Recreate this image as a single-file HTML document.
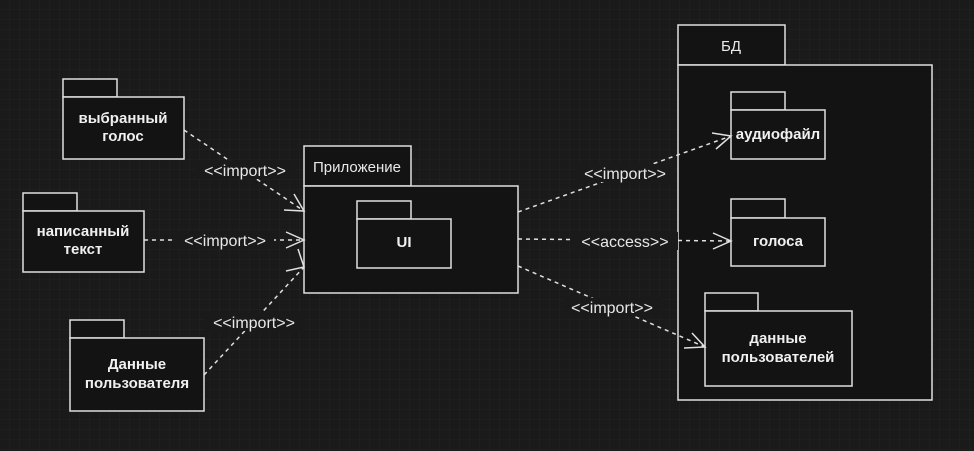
<!DOCTYPE html>
<html><head><meta charset="utf-8"><style>
html,body{margin:0;padding:0;background:#1a1a1a;}
svg{display:block;}
</style></head><body>
<svg width="974" height="451" viewBox="0 0 974 451" xmlns="http://www.w3.org/2000/svg">
<defs>
<pattern id="g" width="10" height="10" patternUnits="userSpaceOnUse"><path d="M10 0V10H0" fill="none" stroke="#222" stroke-width="1"/></pattern>
</defs>
<rect width="974" height="451" fill="#1a1a1a"/>
<rect width="974" height="451" fill="url(#g)"/>
<g fill="#131313" stroke="#e0e0e0" stroke-width="1.5">
<rect x="63" y="79" width="54" height="18"/><rect x="63" y="97" width="121" height="62"/>
<rect x="23" y="193" width="54" height="18"/><rect x="23" y="211" width="121" height="61"/>
<rect x="70" y="320" width="54" height="18"/><rect x="70" y="338" width="134" height="73"/>
<rect x="304" y="146" width="107" height="40"/><rect x="304" y="186" width="214" height="107"/>
<rect x="357" y="201" width="54" height="18"/><rect x="357" y="219" width="94" height="49"/>
<rect x="678" y="25" width="107" height="40"/><rect x="678" y="65" width="254" height="335"/>
<rect x="731" y="92" width="54" height="18"/><rect x="731" y="110" width="94" height="49"/>
<rect x="731" y="199" width="54" height="19"/><rect x="731" y="218" width="94" height="48"/>
<rect x="705" y="293" width="53" height="18"/><rect x="705" y="311" width="147" height="75"/>
</g>
<g stroke="#e0e0e0" stroke-width="1.5" fill="none" stroke-dasharray="4,4">
<line x1="184" y1="130" x2="304" y2="211"/>
<line x1="144" y1="240" x2="304" y2="240"/>
<line x1="204" y1="375" x2="304" y2="267"/>
<line x1="518" y1="212" x2="731" y2="136"/>
<line x1="518" y1="239" x2="731" y2="241"/>
<line x1="518" y1="266" x2="705" y2="347"/>
</g>
<g stroke="#e0e0e0" stroke-width="1.5" fill="none">
<polyline points="284,210 304,211 294,194"/>
<polyline points="286,232 304,240 286,248"/>
<polyline points="286,271 304,267 298,249"/>
<polyline points="712,133 731,136 716,149"/>
<polyline points="713,233 731,241 713,249"/>
<polyline points="684,348 705,347 692,333"/>
</g>
<g font-family="Liberation Sans, DejaVu Sans, sans-serif" font-size="16" fill="#e8e8e8" text-anchor="middle">
<rect x="196" y="161" width="98" height="18" fill="#1a1a1a"/><text x="245" y="176">&lt;&lt;import&gt;&gt;</text>
<rect x="176" y="231" width="98" height="18" fill="#1a1a1a"/><text x="225" y="246">&lt;&lt;import&gt;&gt;</text>
<rect x="205" y="313" width="98" height="18" fill="#1a1a1a"/><text x="254" y="328">&lt;&lt;import&gt;&gt;</text>
<rect x="576" y="164" width="98" height="18" fill="#1a1a1a"/><text x="625" y="179">&lt;&lt;import&gt;&gt;</text>
<rect x="572" y="232" width="106" height="18" fill="#1a1a1a"/><text x="625" y="247">&lt;&lt;access&gt;&gt;</text>
<rect x="563" y="298" width="98" height="18" fill="#1a1a1a"/><text x="612" y="313">&lt;&lt;import&gt;&gt;</text>
<text x="357" y="172" font-size="15">Приложение</text>
<text x="731" y="51" font-size="15">БД</text>
</g>
<g font-family="Liberation Sans, DejaVu Sans, sans-serif" font-size="15" font-weight="bold" fill="#f0f0f0" text-anchor="middle">
<text x="123" y="123">выбранный</text><text x="123" y="141">голос</text>
<text x="83" y="236">написанный</text><text x="83" y="254">текст</text>
<text x="137" y="369">Данные</text><text x="137" y="388">пользователя</text>
<text x="404" y="247">UI</text>
<text x="778" y="139">аудиофайл</text>
<text x="778" y="246">голоса</text>
<text x="778" y="343">данные</text><text x="778" y="362">пользователей</text>
</g>
</svg>
</body></html>
